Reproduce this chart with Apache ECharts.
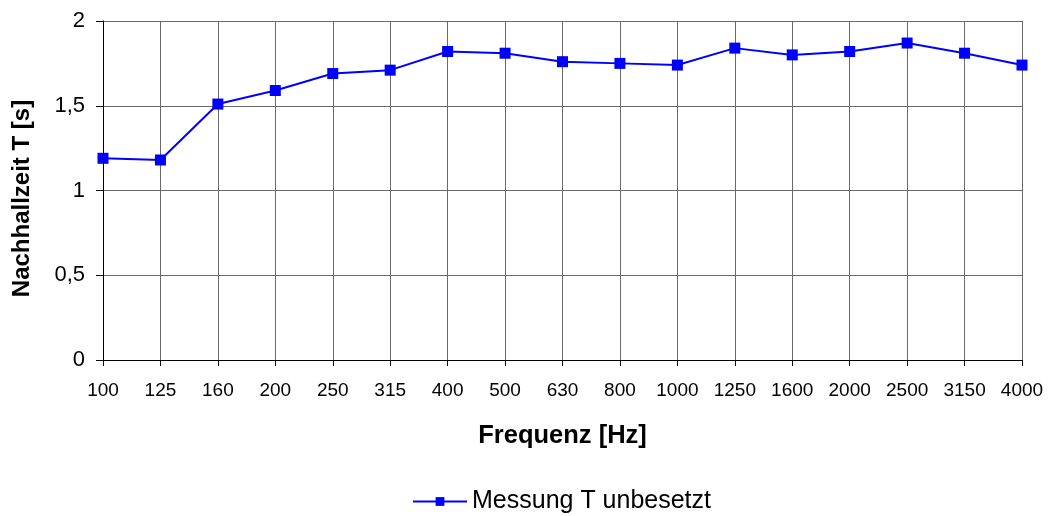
<!DOCTYPE html>
<html>
<head>
<meta charset="utf-8">
<script src="https://cdn.jsdelivr.net/npm/echarts@6/dist/echarts.min.js"></script>
<style>html,body{margin:0;padding:0;background:#fff}#c{width:1050px;height:516px}</style>
</head>
<body>
<div id="c"></div>
<script>
var categories = ['100','125','160','200','250','315','400','500','630','800','1000','1250','1600','2000','2500','3150','4000'];
var values = [1.19,1.18,1.51,1.59,1.69,1.71,1.82,1.81,1.76,1.75,1.74,1.84,1.80,1.82,1.87,1.81,1.74];
var seriesName = 'Messung T unbesetzt';
var xTitle = 'Frequenz [Hz]';
var yTitle = 'Nachhallzeit T [s]';

var font = '"Liberation Sans", Arial, sans-serif';
var chart = echarts.init(document.getElementById('c'), null, {renderer:'canvas'});
chart.setOption({
  animation:false,
  backgroundColor:'#fff',
  grid:{left:103,right:28,top:21,bottom:156,containLabel:false,outerBoundsMode:'none'},
  legend:{
    bottom:-3,left:407,
    itemWidth:54,itemHeight:11,itemGap:0,
    textStyle:{fontFamily:font,fontSize:25,color:'#000'},
    data:[seriesName]
  },
  xAxis:{
    type:'category',data:categories,boundaryGap:false,
    name:xTitle,nameLocation:'middle',nameGap:63,
    nameTextStyle:{fontFamily:font,fontSize:25.5,fontWeight:'bold',color:'#000'},
    axisLine:{lineStyle:{color:'#000',width:1}},
    axisTick:{show:true,length:6,inside:false,lineStyle:{color:'#000'}},
    axisLabel:{interval:0,margin:21,fontFamily:font,fontSize:19,color:'#000'},
    splitLine:{show:true,lineStyle:{color:'#6a6a6a',width:1}}
  },
  yAxis:{
    type:'value',min:0,max:2,interval:0.5,
    name:yTitle,nameLocation:'middle',nameGap:69,
    nameTextStyle:{fontFamily:font,fontSize:24,fontWeight:'bold',color:'#000',padding:[0,16,0,0]},
    axisLine:{show:true,lineStyle:{color:'#000',width:1}},
    axisTick:{show:true,length:7,lineStyle:{color:'#000'}},
    axisLabel:{margin:18,fontFamily:font,fontSize:22,color:'#000',
      formatter:function(v){return String(v).replace('.',',');}},
    splitLine:{show:true,lineStyle:{color:'#6a6a6a',width:1}}
  },
  series:[{
    name:seriesName,type:'line',data:values,
    symbol:'rect',symbolSize:11,
    lineStyle:{color:'#0000ff',width:2},
    itemStyle:{color:'#0000ff'}
  }]
});
</script>
</body>
</html>
